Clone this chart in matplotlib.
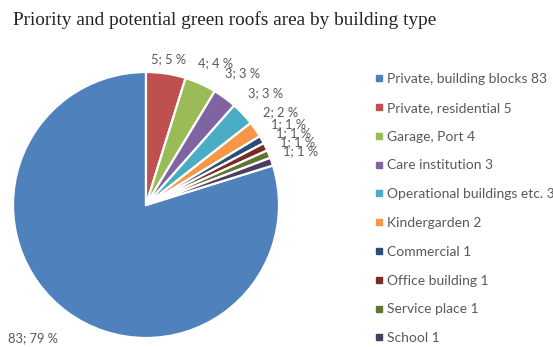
import numpy as np
import matplotlib
matplotlib.use("Agg")
import matplotlib.pyplot as plt
from matplotlib.lines import Line2D

# Building types and their green roof area counts
categories = [
    "Private, building blocks", "Private, residential", "Garage, Port",
    "Care institution", "Operational buildings etc.", "Kindergarden",
    "Commercial", "Office building", "Service place", "School",
]
values = [83, 5, 4, 3, 3, 2, 1, 1, 1, 1]
percent_labels = [79, 5, 4, 3, 3, 2, 1, 1, 1, 1]

colors = ["#4F81BD", "#C0504D", "#9BBB59", "#8064A2", "#4BACC6",
          "#F79646", "#2C4D75", "#772C2A", "#5F7530", "#4D3B62"]

W, H = 553, 347
fig = plt.figure(figsize=(W / 100, H / 100), dpi=100)

# pie centred at (146, 205) px with radius 133 px
cx, cy, r = 146, 205, 133
ax = fig.add_axes([(cx - r) / W, (H - cy - r) / H, 2 * r / W, 2 * r / H])

total = sum(values)
# first wedge ends at 12 o'clock, remaining wedges run clockwise from there
start = 90 - 360 * (total - values[0]) / total
wedges, _ = ax.pie(values, colors=colors, startangle=start, counterclock=False,
                   radius=1.0,
                   wedgeprops=dict(edgecolor="white", linewidth=1.6))
ax.set_xlim(-1, 1)
ax.set_ylim(-1, 1)
ax.set_aspect("equal")
ax.axis("off")

label_font = "Lato"
for i, (w, v, p) in enumerate(zip(wedges, values, percent_labels)):
    mid = (w.theta1 + w.theta2) / 2
    if i == 0:
        d, mid = 1.31, mid - 4
    elif i == 1:
        d = 1.11
    elif i == 2:
        d, mid = 1.19, mid - 2
    else:
        d = 1.23
    mid = np.deg2rad(mid)
    ax.text(d * np.cos(mid), d * np.sin(mid), f"{v}; {p} %",
            ha="center", va="center", fontsize=9.3, color="#595959",
            family=label_font, clip_on=False)

handles = [Line2D([], [], marker="s", linestyle="none", markersize=4.2,
                  markerfacecolor=c, markeredgecolor=c) for c in colors]
leg_labels = [f"{c} {v}" for c, v in zip(categories, values)]
fig.legend(handles, leg_labels, loc="upper left",
           bbox_to_anchor=(375 / W, 1 - 73 / H), frameon=False,
           prop=dict(family=label_font, size=10), labelcolor="#595959",
           handlelength=0.6, handletextpad=0.27, labelspacing=1.21,
           borderaxespad=0, borderpad=0)

fig.text(13 / W, 1 - 20 / H,
         "Priority and potential green roofs area by building type",
         ha="left", va="center", fontsize=13.9, family="Liberation Serif",
         color="#222222")

fig.savefig("out.png", dpi=100)
